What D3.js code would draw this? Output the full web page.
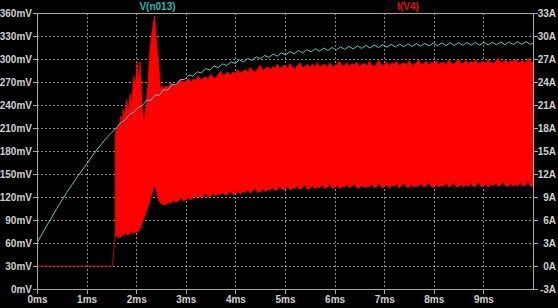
<!DOCTYPE html>
<html><head><meta charset="utf-8">
<script src="https://cdn.jsdelivr.net/npm/d3@7"></script>
<style>html,body{margin:0;padding:0;background:#000;}svg{display:block;background:#000}</style>
</head><body><svg id="c" width="558" height="308"></svg>
<script>
// ---- data ----
const xTicks = [0,1,2,3,4,5,6,7,8,9];
const xTickLabels = ["0ms","1ms","2ms","3ms","4ms","5ms","6ms","7ms","8ms","9ms"];
const vTicks = [0,30,60,90,120,150,180,210,240,270,300,330,360];
const vTickLabels = ["0mV","30mV","60mV","90mV","120mV","150mV","180mV","210mV","240mV","270mV","300mV","330mV","360mV"];
const iTicks = [-3,0,3,6,9,12,15,18,21,24,27,30,33];
const iTickLabels = ["-3A","0A","3A","6A","9A","12A","15A","18A","21A","24A","27A","30A","33A"];
const seriesNames = ["V(n013)","I(V4)"];

// V(n013) in mV, time in ms
const vTime = [0,0.2,0.4,0.6,0.8,1.0,1.2,1.4,1.6,
1.7,1.785,1.87,1.955,2.04,2.125,2.21,2.295,2.38,2.465,2.55,2.635,2.72,2.805,2.89,2.975,
3.06,3.145,3.23,3.315,3.4,3.485,3.57,3.655,3.74,3.825,3.91,3.995,4.08,4.165,4.25,4.335,
4.42,4.505,4.59,4.675,4.76,4.845,4.93,5.015,5.1,5.185,5.27,5.355,5.44,5.525,5.61,5.695,
5.78,5.865,5.95,6.035,6.12,6.205,6.29,6.375,6.46,6.545,6.63,6.715,6.8,6.885,6.97,7.055,
7.14,7.225,7.31,7.395,7.48,7.565,7.65,7.735,7.82,7.905,7.99,8.075,8.16,8.245,8.33,8.415,
8.5,8.585,8.67,8.755,8.84,8.925,9.01,9.095,9.18,9.265,9.35,9.435,9.52,9.605,9.69,9.775,
9.86,9.945,10];
const vValue = [60,83,105,126,145,163,181,197,210,
217.5,221,228,230.5,237,239.3,246.2,246,253,252.8,259.8,259.6,266.6,266.4,273.4,273.2,
279.2,277.7,283.3,281.8,287.4,285.8,290.9,288.7,293.6,291.4,296.4,294.1,298.8,296.2,300.8,298.2,
302.8,300.3,304.7,302,306.4,303.7,308.1,305.3,309.6,306.7,311,308,312.3,309.3,313.4,310.2,
314.2,311,315.1,311.8,315.8,312.5,316.5,313.2,317.1,313.8,317.8,314.3,318.2,314.9,318.7,315.3,
319.1,315.7,319.4,316,319.8,316.3,320.1,316.7,320.4,317,320.8,317.3,321,317.4,321.1,317.6,
321.3,317.8,321.5,318,321.6,318.1,321.8,318.3,322,318.5,322.2,318.6,322.3,318.8,322.5,319,
322.7,319.1,320.5];

// I(V4) in A: flat start, then envelope of the dense oscillation
const iStartTime = [0,1.52,1.58];
const iStartValue = [0,0,4.0];
const iEnvTime = [1.58,1.60,1.62,1.64,1.66,1.68,1.70,1.72,1.74,1.76,1.78,1.81,1.83,1.85,1.88,1.90,1.92,1.95,1.98,2.02,2.05,2.08,2.12,2.15,2.20,2.24,2.28,2.32,2.37,2.41,2.45,2.49,2.53,2.56,
2.60,2.65,2.70,2.75,2.80,2.85,2.90,2.95,3.00,3.05,3.10,3.15,3.20,3.25,3.30,3.35,3.40,3.45,3.50,3.55,3.60,3.65,3.70,3.75,3.80,3.85,3.90,3.95,
4.00,4.05,4.10,4.15,4.20,4.25,4.30,4.35,4.40,4.45,4.50,4.55,4.60,4.65,4.70,4.75,4.80,4.85,4.90,4.95,
5.00,5.05,5.10,5.15,5.20,5.25,5.30,5.35,5.40,5.45,5.50,5.55,5.60,5.65,5.70,5.75,5.80,5.85,5.90,5.95,
6.00,6.05,6.10,6.15,6.20,6.25,6.30,6.35,6.40,6.45,6.50,6.55,6.60,6.65,6.70,6.75,6.80,6.85,6.90,6.95,
7.00,7.05,7.10,7.15,7.20,7.25,7.30,7.35,7.40,7.45,7.50,7.55,7.60,7.65,7.70,7.75,7.80,7.85,7.90,7.95,
8.00,8.05,8.10,8.15,8.20,8.25,8.30,8.35,8.40,8.45,8.50,8.55,8.60,8.65,8.70,8.75,8.80,8.85,8.90,8.95,
9.00,9.05,9.10,9.15,9.20,9.25,9.30,9.35,9.40,9.45,9.50,9.55,9.60,9.65,9.70,9.75,9.80,9.85,9.90,9.95,10.00];
const iUpper = [17,18.0,17.2,18.5,17.6,19.5,18.2,19.0,20.4,19.2,20.2,21.7,19.8,20.5,22.5,21.0,22.0,24.7,23.5,26.5,24.0,26.7,20.8,18.5,21.0,24.0,28.3,30.5,32.6,29.0,26.5,23.0,23.4,23.1,
23.5,23.3,23.9,23.6,23.5,24.0,24.4,23.9,24.1,24.5,23.9,24.4,24.2,24.8,24.2,24.5,24.7,24.3,25.0,24.6,24.5,24.9,25.4,24.8,25.0,25.3,24.8,25.3,
25.1,25.6,25.1,25.4,25.6,25.2,25.9,25.4,25.3,25.7,26.2,25.5,25.7,26.0,25.5,26.0,25.8,26.3,25.7,26.0,
26.2,25.7,26.4,25.9,25.7,26.1,26.5,25.8,26.0,26.3,25.8,26.3,26.0,26.5,25.9,26.2,26.3,25.8,26.5,26.1,
25.9,26.3,26.7,26.0,26.2,26.5,26.0,26.4,26.2,26.6,26.0,26.3,26.4,26.0,26.7,26.2,26.0,26.4,26.8,26.1,
26.3,26.6,26.1,26.5,26.3,26.7,26.1,26.4,26.5,26.1,26.8,26.3,26.2,26.5,26.9,26.2,26.4,26.7,26.2,26.6,
26.4,26.8,26.2,26.5,26.6,26.2,26.9,26.4,26.3,26.6,27.0,26.3,26.5,26.8,26.3,26.7,26.5,26.9,26.3,26.6,
26.7,26.3,27.0,26.5,26.4,26.7,27.1,26.4,26.6,26.9,26.4,26.8,26.6,27.0,26.4,26.7,26.8,26.4,27.1,26.6,26.6];
const iLower = [4.0,3.8,4.3,3.6,4.1,3.7,4.4,3.9,4.2,4.0,4.6,4.2,4.0,4.1,4.4,4.8,4.2,4.5,4.3,4.6,4.5,5.0,5.6,6.2,7.0,7.8,8.6,9.5,10.6,9.8,8.6,8.2,8.1,8.0,
8.0,8.3,8.2,8.6,8.3,8.5,9.0,8.5,8.6,9.0,8.6,9.0,8.9,9.3,8.9,9.1,9.6,9.0,9.1,9.5,9.1,9.4,9.3,9.7,9.2,9.4,9.9,9.3,
9.4,9.8,9.4,9.7,9.6,10.0,9.5,9.8,10.2,9.6,9.7,10.1,9.7,10.0,9.9,10.3,9.8,10.0,10.5,9.9,
10.0,10.4,9.9,10.2,10.1,10.5,10.0,10.2,10.7,10.0,10.1,10.5,10.1,10.3,10.2,10.6,10.1,10.3,10.8,10.1,
10.2,10.6,10.1,10.4,10.3,10.7,10.2,10.4,10.8,10.2,10.2,10.6,10.2,10.4,10.3,10.8,10.2,10.4,10.9,10.2,
10.3,10.7,10.2,10.5,10.4,10.8,10.2,10.5,10.9,10.3,10.3,10.7,10.3,10.5,10.4,10.8,10.3,10.5,11.0,10.3,
10.3,10.7,10.3,10.5,10.4,10.9,10.3,10.5,11.0,10.3,10.4,10.7,10.3,10.6,10.4,10.9,10.3,10.5,11.0,10.4,
10.4,10.8,10.3,10.6,10.5,10.9,10.4,10.6,11.0,10.4,10.4,10.8,10.4,10.6,10.5,10.9,10.4,10.6,11.1,10.4,10.4];

// ---- drawing ----
const svg = d3.select("#c");
const L = 37, R = 533, T = 13, B = 289;
const x = d3.scaleLinear().domain([0,10]).range([L,R]);
const yV = d3.scaleLinear().domain([0,360]).range([B,T]);
const yI = d3.scaleLinear().domain([-3,33]).range([B,T]);
const px = v => Math.round(v) + 0.5;
const font = "'Liberation Sans', Arial, sans-serif";
const gridCol = "#8c8c8c", borderCol = "#a8a8a8", textCol = "#d0d0d0";

svg.append("rect").attr("width",558).attr("height",308).attr("fill","#000");

// grid
const grid = svg.append("g").attr("stroke",gridCol).attr("stroke-width",1).attr("stroke-dasharray","2,2").attr("shape-rendering","crispEdges");
grid.selectAll("line.h").data(vTicks.slice(1,-1)).join("line")
  .attr("x1",L).attr("x2",R).attr("y1",d=>px(yV(d))).attr("y2",d=>px(yV(d)));
grid.selectAll("line.v").data(xTicks.slice(1)).join("line")
  .attr("class","v").attr("y1",T).attr("y2",B).attr("x1",d=>px(x(d))).attr("x2",d=>px(x(d)));

// I(V4) - red
const gI = svg.append("g");
gI.append("path").datum(iStartTime.map((t,i)=>[t,iStartValue[i]]))
  .attr("fill","none").attr("stroke","#c00000").attr("stroke-width",1)
  .attr("d", d3.line().x(d=>x(d[0])).y(d=>yI(d[1])));
gI.append("path").datum(iEnvTime.map((t,i)=>[t,iLower[i],iUpper[i]]))
  .attr("fill","#ff0000").attr("stroke","#ff0000").attr("stroke-width",0.8)
  .attr("d", d3.area().x(d=>x(d[0])).y0(d=>yI(d[1])).y1(d=>yI(d[2])));

// V(n013) - teal
svg.append("path").datum(vTime.map((t,i)=>[t,vValue[i]]))
  .attr("fill","none").attr("stroke","#5cc4c4").attr("stroke-width",1)
  .attr("d", d3.line().x(d=>x(d[0])).y(d=>yV(d[1])));

// border
svg.append("rect").attr("x",L+0.5).attr("y",T+0.5).attr("width",R-L).attr("height",B-T)
  .attr("fill","none").attr("stroke",borderCol).attr("stroke-width",1).attr("shape-rendering","crispEdges");

// axes
function styleAxis(g){
  g.select(".domain").remove();
  g.selectAll(".tick line").attr("stroke",borderCol).attr("shape-rendering","crispEdges");
  g.selectAll(".tick text").attr("fill",textCol).style("font-family",font).style("font-size","10px").style("font-weight","bold");
}
svg.append("g").attr("transform",`translate(${L},0)`)
  .call(d3.axisLeft(yV).tickValues(vTicks).tickFormat((d,i)=>vTickLabels[i]).tickSize(4).tickPadding(1))
  .call(styleAxis);
const gr = svg.append("g").attr("transform",`translate(${R+1},0)`)
  .call(d3.axisRight(yI).tickValues(iTicks).tickFormat((d,i)=>iTickLabels[i]).tickSize(4).tickPadding(3))
  .call(styleAxis);
gr.selectAll(".tick text").attr("text-anchor","end").attr("x",22);
svg.append("g").attr("transform",`translate(0,${B+1})`)
  .call(d3.axisBottom(x).tickValues(xTicks).tickFormat((d,i)=>xTickLabels[i]).tickSize(4).tickPadding(2))
  .call(styleAxis);

// titles
svg.append("text").attr("x",157.5).attr("y",10).attr("text-anchor","middle")
  .attr("fill","#30b4b4").style("font-family",font).style("font-size","10px").style("font-weight","bold").text(seriesNames[0]);
svg.append("text").attr("x",408).attr("y",10).attr("text-anchor","middle")
  .attr("fill","#e01010").style("font-family",font).style("font-size","10px").style("font-weight","bold").text(seriesNames[1]);
</script></body></html>
